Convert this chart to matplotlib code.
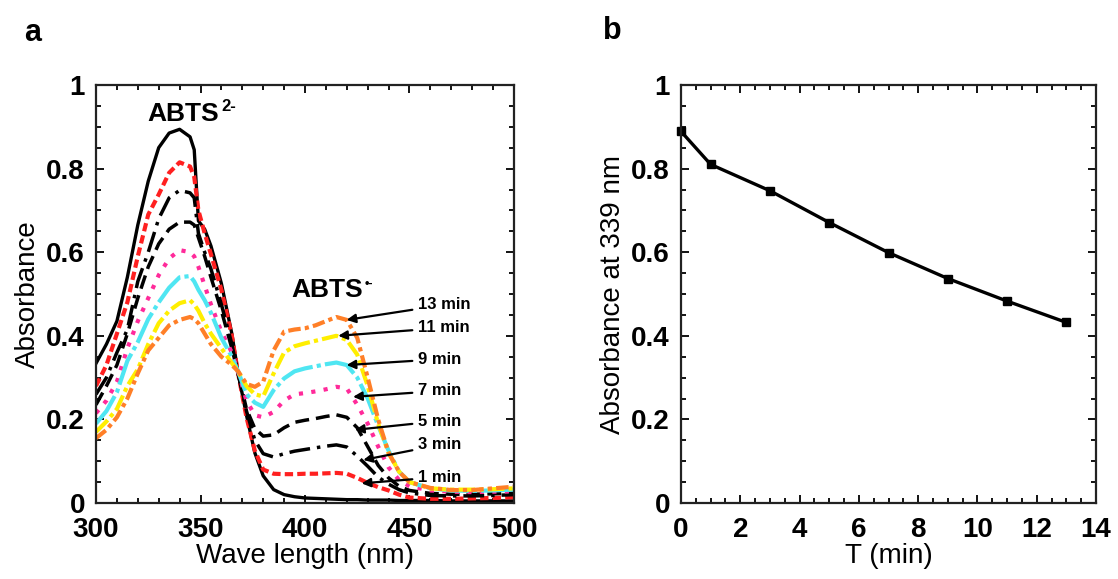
import matplotlib
matplotlib.use("Agg")
import matplotlib.pyplot as plt
from matplotlib.ticker import MultipleLocator, FuncFormatter

plt.rcParams['font.family'] = ['Liberation Sans', 'DejaVu Sans']

# wavelength grid (nm)
wl = [300, 305, 310, 315, 320, 325, 330, 335, 340, 345, 347, 349, 352, 355, 360,
      365, 368, 372, 376, 380, 385, 390, 395, 400, 405, 410, 415, 420, 425, 430,
      435, 440, 445, 450, 460, 470, 480, 490, 500]

# absorbance spectra at each time point
a0 = [.334, .38, .435, .54, .665, .77, .85, .885, .894, .876, .845, .675, .655, .615, .525,
      .405, .31, .21, .12, .065, .032, .02, .015, .012, .011, .01, .009, .008, .008, .007,
      .007, .007, .006, .006, .006, .005, .005, .005, .005]
a1 = [.28, .33, .405, .48, .59, .69, .738, .79, .815, .805, .78, .70, .645, .595, .51,
      .40, .31, .205, .125, .08, .07, .069, .069, .07, .07, .071, .072, .07, .06, .048,
      .038, .03, .02, .013, .01, .01, .011, .012, .014]
a3 = [.26, .30, .36, .415, .53, .60, .68, .73, .748, .742, .73, .645, .60, .56, .475,
      .38, .31, .22, .15, .118, .11, .118, .124, .128, .132, .136, .139, .134, .112, .088,
      .062, .045, .032, .024, .018, .017, .017, .018, .02]
a5 = [.235, .28, .33, .405, .49, .565, .62, .655, .672, .672, .665, .635, .59, .54, .46,
      .37, .31, .225, .178, .16, .163, .18, .193, .198, .202, .207, .211, .205, .18, .135,
      .09, .06, .04, .03, .023, .021, .021, .022, .024]
a7 = [.215, .245, .29, .37, .435, .49, .545, .585, .605, .60, .59, .565, .52, .475, .41,
      .36, .315, .245, .21, .205, .218, .245, .26, .263, .267, .272, .278, .274, .235, .19,
      .135, .085, .055, .04, .03, .027, .026, .027, .028]
a9 = [.19, .22, .265, .34, .385, .44, .48, .515, .54, .543, .53, .51, .485, .455, .395,
      .35, .315, .26, .24, .23, .27, .298, .315, .322, .327, .332, .336, .33, .30, .25,
      .185, .125, .075, .05, .035, .03, .029, .03, .032]
a11 = [.17, .195, .225, .28, .32, .38, .43, .46, .478, .485, .475, .46, .43, .405, .37,
       .335, .315, .28, .26, .255, .31, .36, .375, .382, .388, .394, .40, .39, .355, .28,
       .19, .12, .075, .05, .035, .032, .032, .033, .035]
a13 = [.155, .175, .205, .25, .31, .365, .395, .425, .438, .445, .44, .43, .405, .38, .35,
       .33, .315, .285, .278, .29, .365, .41, .415, .418, .425, .435, .445, .438, .395, .30,
       .20, .12, .075, .05, .036, .031, .031, .035, .039]

# arrow targets (nm, absorbance) and label heights
times = ['13 min', '11 min', '9 min', '7 min', '5 min', '3 min', '1 min']
tip_x = [419.9, 415.9, 419.9, 423.0, 423.9, 427.9, 427.1]
tip_y = [0.438, 0.400, 0.330, 0.254, 0.175, 0.103, 0.047]
lab_y = [0.474, 0.419, 0.344, 0.268, 0.196, 0.139, 0.062]

# absorbance at 339 nm vs time
t_min = [0, 1, 3, 5, 7, 9, 11, 13]
a339 = [0.889, 0.81, 0.747, 0.671, 0.599, 0.537, 0.483, 0.432]

fig = plt.figure(figsize=(11.18, 5.79), dpi=100)
ax1 = fig.add_axes([96/1118, 1-503/579, 418/1118, 418/579])
ax2 = fig.add_axes([681/1118, 1-503/579, 415/1118, 418/579])

ax1.plot(wl, a0, color='black', lw=2.4)
ax1.plot(wl, a1, color='#ff2020', lw=3, ls=(0, (2, 1)))
ax1.plot(wl, a3, color='black', lw=2.5, ls=(0, (6, 2, 1, 2)))
ax1.plot(wl, a5, color='black', lw=2.5, ls=(0, (4, 2)))
ax1.plot(wl, a7, color='#ff2a9a', lw=3, ls=(0, (1, 2)))
ax1.plot(wl, a9, color='#4fe6f2', lw=3, ls=(0, (8, 1, 1, 1)))
ax1.plot(wl, a11, color='#ffee00', lw=3, ls=(0, (4, 1, 1, 1)))
ax1.plot(wl, a13, color='#ff7f27', lw=3, ls=(0, (3, 1, 1, 1)))

for lab, tx, ty, ly in zip(times, tip_x, tip_y, lab_y):
    ax1.annotate(lab, xy=(tx, ty), xytext=(454, ly), ha='left', va='center',
                 fontsize=12, fontweight='bold',
                 arrowprops=dict(arrowstyle='-|>', color='black', lw=1.6,
                                 mutation_scale=13, shrinkA=2, shrinkB=0))

ax1.text(341.9, 0.93, 'ABTS', ha='center', va='center', fontsize=19, fontweight='bold')
ax1.text(363.6, 0.948, '2-', ha='center', va='center', fontsize=12, fontweight='bold')
ax1.text(410.8, 0.51, 'ABTS', ha='center', va='center', fontsize=19, fontweight='bold')
ax1.text(430.5, 0.525, '•-', ha='center', va='center', fontsize=9, fontweight='bold')

ax1.set_xlim(300, 500)
ax1.set_ylim(0, 1)
ax1.xaxis.set_major_locator(MultipleLocator(50))
ax1.xaxis.set_minor_locator(MultipleLocator(10))
ax1.set_xlabel('Wave length (nm)', fontsize=20, labelpad=0)
ax1.set_ylabel('Absorbance', fontsize=20, labelpad=4)

ax2.plot(t_min, a339, color='black', lw=2.4, marker='s', ms=5.5, clip_on=False)
ax2.set_xlim(0, 14)
ax2.set_ylim(0, 1)
ax2.xaxis.set_major_locator(MultipleLocator(2))
ax2.xaxis.set_minor_locator(MultipleLocator(0.5))
ax2.set_xlabel('T (min)', fontsize=20, labelpad=0)
ax2.set_ylabel('Absorbance at 339 nm', fontsize=20, labelpad=4)

fmt = FuncFormatter(lambda v, p: '%g' % v)
for ax in (ax1, ax2):
    ax.yaxis.set_major_locator(MultipleLocator(0.2))
    ax.yaxis.set_minor_locator(MultipleLocator(0.05))
    ax.yaxis.set_major_formatter(fmt)
    ax.tick_params(which='both', direction='in', top=True, right=True, width=1.3)
    ax.tick_params(which='major', length=6, labelsize=20)
    ax.tick_params(axis='x', which='major', pad=10)
    ax.tick_params(axis='y', which='major', pad=8)
    ax.tick_params(which='minor', length=3.5)
    for lbl in ax.get_xticklabels() + ax.get_yticklabels():
        lbl.set_fontweight('bold')
    for s in ax.spines.values():
        s.set_linewidth(1.6)
        s.set_color('#222222')

fig.text(33/1118, 1-33/579, 'a', fontsize=22, fontweight='bold', ha='center', va='center')
fig.text(612/1118, 1-31/579, 'b', fontsize=22, fontweight='bold', ha='center', va='center')

fig.savefig('out.png', dpi=100)
